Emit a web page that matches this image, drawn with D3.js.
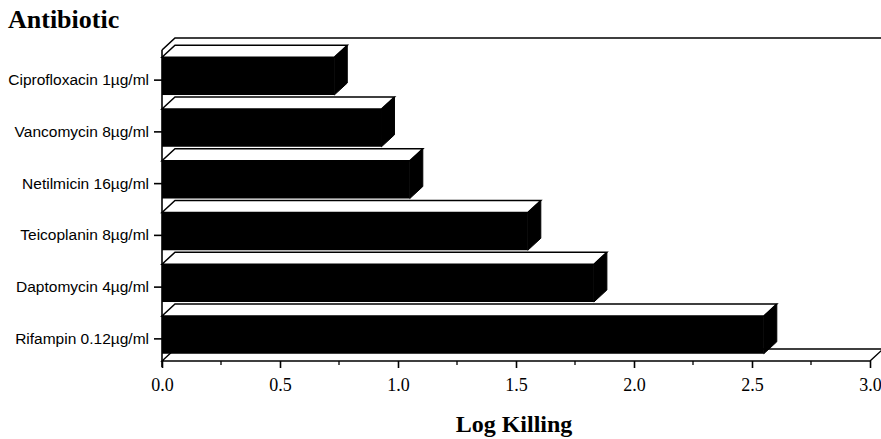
<!DOCTYPE html>
<html>
<head>
<meta charset="utf-8">
<script src="https://cdn.jsdelivr.net/npm/d3@7"></script>
<style>
  body { margin: 0; background: #fff; }
</style>
</head>
<body>
<div id="chart"></div>
<script>
let antibiotics = ['Ciprofloxacin 1\u00b5g/ml', 'Vancomycin 8\u00b5g/ml', 'Netilmicin 16\u00b5g/ml',
                   'Teicoplanin 8\u00b5g/ml', 'Daptomycin 4\u00b5g/ml', 'Rifampin 0.12\u00b5g/ml']
let logKilling = [0.73, 0.93, 1.05, 1.55, 1.83, 2.55]
let xTicks = [0, 0.5, 1.0, 1.5, 2.0, 2.5, 3.0]

let width = 881, height = 439
let plotLeft = 162, plotRight = 870, plotTop = 50, plotBottom = 361
let dx = 13, dy = 12
let serif = '"Liberation Serif", "Times New Roman", serif'

let svg = d3.select('#chart').append('svg')
  .attr('width', width)
  .attr('height', height)

let x = d3.scaleLinear().domain([0, 3]).range([plotLeft, plotRight])
let y = d3.scaleBand().domain(antibiotics).range([plotTop, plotBottom])
  .paddingInner(0.27).paddingOuter(0.14)

// back wall top edge + left corner
svg.append('path')
  .attr('d', `M${plotLeft},${plotTop} L${plotLeft + dx},${plotTop - dy} L${width + 5},${plotTop - dy}`)
  .attr('fill', 'none').attr('stroke', '#000').attr('stroke-width', 1.6)

// floor
svg.append('path')
  .attr('d', `M${x(0)},${plotBottom} L${x(3)},${plotBottom} L${x(3) + dx},${plotBottom - dy} L${x(0) + dx},${plotBottom - dy} Z`)
  .attr('fill', '#fff').attr('stroke', '#000').attr('stroke-width', 1.4)

let bars = svg.selectAll('.bar')
  .data(antibiotics)
  .enter().append('g')
  .attr('class', 'bar')

// top face
bars.append('path')
  .attr('d', function(d, i) {
    let yf = y(d), x0 = x(0), x1 = x(logKilling[i])
    return `M${x0},${yf} L${x1},${yf} L${x1 + dx},${yf - dy} L${x0 + dx},${yf - dy} Z`
  })
  .attr('fill', '#fff').attr('stroke', '#000').attr('stroke-width', 1.5)

// front face
bars.append('rect')
  .attr('x', x(0))
  .attr('y', d => y(d))
  .attr('width', (d, i) => x(logKilling[i]) - x(0))
  .attr('height', y.bandwidth())
  .attr('fill', '#000')

// side face
bars.append('path')
  .attr('d', function(d, i) {
    let yf = y(d), x1 = x(logKilling[i]), h = y.bandwidth()
    return `M${x1},${yf} L${x1 + dx},${yf - dy} L${x1 + dx},${yf - dy + h} L${x1},${yf + h} Z`
  })
  .attr('fill', '#000').attr('stroke', '#000').attr('stroke-width', 1)

// y axis
let yAxisGroup = svg.append('g')
  .attr('transform', `translate(${plotLeft},4)`)
  .call(d3.axisLeft(y).tickSize(8).tickPadding(5).tickSizeOuter(0))
yAxisGroup.select('.domain').remove()
yAxisGroup.selectAll('line').attr('stroke-width', 1.6)
yAxisGroup.selectAll('text')
  .style('font-family', '"Liberation Sans", Arial, sans-serif')
  .style('font-size', '15.5px')

svg.append('line')
  .attr('x1', plotLeft).attr('x2', plotLeft)
  .attr('y1', plotTop).attr('y2', plotBottom + 6)
  .attr('stroke', '#000').attr('stroke-width', 1.6)

// x axis
let xAxisGroup = svg.append('g')
  .attr('transform', `translate(0,${plotBottom})`)
  .call(d3.axisBottom(x).tickValues(xTicks).tickFormat(d3.format('.1f')).tickSize(7).tickPadding(10))
xAxisGroup.select('.domain').remove()
xAxisGroup.selectAll('line').attr('stroke-width', 1.6)
xAxisGroup.attr('font-family', serif)
xAxisGroup.selectAll('text')
  .style('font-family', serif)
  .style('font-size', '18px')

let minor = d3.range(0.25, 3, 0.5)
svg.append('g').selectAll('line')
  .data(minor).enter().append('line')
  .attr('x1', d => x(d)).attr('x2', d => x(d))
  .attr('y1', plotBottom).attr('y2', plotBottom + 4)
  .attr('stroke', '#000').attr('stroke-width', 1.3)

svg.append('text')
  .attr('x', 8).attr('y', 28)
  .attr('font-family', serif)
  .attr('font-weight', 'bold').attr('font-size', '26px')
  .text('Antibiotic')

svg.append('text')
  .attr('x', 514).attr('y', 432)
  .attr('text-anchor', 'middle')
  .attr('font-family', serif)
  .attr('font-weight', 'bold').attr('font-size', '24px')
  .text('Log Killing')
</script>
</body>
</html>
